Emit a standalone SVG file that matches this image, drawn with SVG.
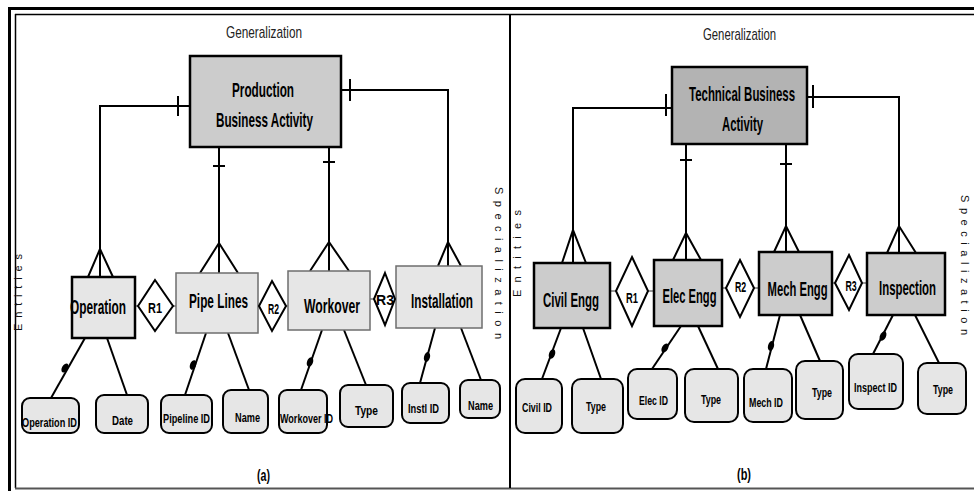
<svg xmlns="http://www.w3.org/2000/svg" width="974" height="491" viewBox="0 0 974 491">
  <style>
    .frame { fill: none; stroke: #000; }
    .con { fill: none; stroke: #000; stroke-width: 2; }
    .thin { fill: none; stroke: #555; stroke-width: 1.2; }
    .entA { fill: #e6e6e6; stroke: #6e6e6e; stroke-width: 1.5; }
    .entB { fill: #cccccc; stroke: #000; stroke-width: 2.5; }
    .entOp { fill: #e6e6e6; stroke: #000; stroke-width: 2.5; }
    .super1 { fill: #cccccc; stroke: #000; stroke-width: 2.5; }
    .super2 { fill: #b3b3b3; stroke: #000; stroke-width: 2.5; }
    .attr { fill: #e6e6e6; stroke: #000; stroke-width: 2; }
    .rel { fill: #fff; stroke: #000; stroke-width: 2; }
    .dot { fill: #000; }
    text { font-family: "Liberation Sans Narrow", "Liberation Sans", Arial, sans-serif; fill: #000; text-anchor: middle; }
    .title { font-size: 16px; fill: #222; }
    .big { font-size: 20px; font-weight: bold; }
    .rl { font-size: 15px; font-weight: bold; }
    .at { font-size: 13.5px; font-weight: bold; }
    .cap { font-size: 17px; font-weight: bold; }
    .side { font-size: 11px; fill: #111; text-anchor: start; }
  </style>

  <!-- outer double frame -->
  <g id="frame">
    <line class="frame" x1="9.5" y1="8" x2="9.5" y2="491" stroke-width="3"/>
    <line class="frame" x1="8" y1="8.5" x2="974" y2="8.5" stroke-width="3"/>
    <line class="frame" x1="15.5" y1="14" x2="15.5" y2="488" stroke-width="1.5"/>
    <line class="frame" x1="15" y1="14.5" x2="974" y2="14.5" stroke-width="1.5"/>
    <line x1="15" y1="488.5" x2="974" y2="488.5" stroke="#555" stroke-width="2"/>
    <line class="frame" x1="510" y1="14" x2="510" y2="488" stroke-width="2"/>
  </g>

  <!-- sideways captions -->
  <g id="side-captions">
    <text class="side" transform="translate(22,331) rotate(-90)" textLength="77" lengthAdjust="spacing">Entities</text>
    <text class="side" transform="translate(495,187) rotate(90)" textLength="152" lengthAdjust="spacing">Specialization</text>
    <text class="side" transform="translate(521,297) rotate(-90)" textLength="87" lengthAdjust="spacing">Entities</text>
    <text class="side" transform="translate(961,195) rotate(90)" textLength="140" lengthAdjust="spacing">Specialization</text>
  </g>

  <!-- connectors -->
  <g id="connectors">
    <!-- panel (a): supertype links -->
    <polyline class="con" points="190,106 100,106 100,277"/>
    <line class="con" x1="178" y1="96" x2="178" y2="116"/>
    <polyline class="con" points="88,277 100,249 113,277"/>
    <line class="con" x1="219" y1="147" x2="219" y2="273"/>
    <line class="con" x1="213" y1="166" x2="225" y2="166"/>
    <polyline class="con" points="200,273 219,243 238,273"/>
    <line class="con" x1="329" y1="147" x2="329" y2="271"/>
    <line class="con" x1="323" y1="162" x2="335" y2="162"/>
    <polyline class="con" points="310,271 329,242 349,271"/>
    <polyline class="con" points="341,90 448,90 448,266"/>
    <line class="con" x1="350" y1="79" x2="350" y2="101"/>
    <polyline class="con" points="438,266 448,242 461,266"/>

    <!-- panel (a): relationship links -->
    <line class="thin" x1="135" y1="306" x2="138" y2="306"/>
    <line class="thin" x1="173" y1="306" x2="176" y2="306"/>
    <line class="thin" x1="258" y1="306" x2="259" y2="306"/>
    <line class="thin" x1="286" y1="306" x2="288" y2="306"/>
    <line class="thin" x1="370" y1="299" x2="374" y2="299"/>
    <line class="thin" x1="395" y1="299" x2="396" y2="299"/>

    <!-- panel (a): attribute links -->
    <line class="con" x1="85" y1="338" x2="51" y2="398"/>
    <ellipse class="dot" cx="65" cy="368" rx="3" ry="5" transform="rotate(30 65 368)"/>
    <line class="con" x1="107" y1="338" x2="127" y2="395"/>
    <line class="con" x1="206" y1="333" x2="185" y2="395"/>
    <ellipse class="dot" cx="193" cy="365" rx="3" ry="5" transform="rotate(20 193 365)"/>
    <line class="con" x1="228" y1="333" x2="249" y2="390"/>
    <line class="con" x1="322" y1="330" x2="301" y2="390"/>
    <ellipse class="dot" cx="310" cy="362" rx="3" ry="5" transform="rotate(20 310 362)"/>
    <line class="con" x1="344" y1="330" x2="366" y2="385"/>
    <line class="con" x1="435" y1="328" x2="420" y2="383"/>
    <ellipse class="dot" cx="427" cy="357" rx="3" ry="5" transform="rotate(15 427 357)"/>
    <line class="con" x1="461" y1="328" x2="481" y2="380"/>

    <!-- panel (b): supertype links -->
    <polyline class="con" points="672,108 573,108 573,263"/>
    <line class="con" x1="666" y1="94" x2="666" y2="116"/>
    <polyline class="con" points="562,263 573,230 586,263"/>
    <line class="con" x1="686" y1="144" x2="686" y2="260"/>
    <line class="con" x1="680" y1="160" x2="692" y2="160"/>
    <polyline class="con" points="673,260 686,233 701,260"/>
    <line class="con" x1="786" y1="144" x2="786" y2="252"/>
    <line class="con" x1="780" y1="164" x2="792" y2="164"/>
    <polyline class="con" points="774,252 786,226 799,252"/>
    <polyline class="con" points="807,97 899,97 899,253"/>
    <line class="con" x1="813" y1="85" x2="813" y2="108"/>
    <polyline class="con" points="887,253 899,226 916,253"/>

    <!-- panel (b): relationship links -->
    <line class="thin" x1="610" y1="291" x2="616" y2="291"/>
    <line class="thin" x1="648" y1="291" x2="654" y2="291"/>
    <line class="thin" x1="722" y1="288" x2="726" y2="288"/>
    <line class="thin" x1="754" y1="288" x2="759" y2="288"/>
    <line class="thin" x1="832" y1="283" x2="835" y2="283"/>
    <line class="thin" x1="862" y1="283" x2="867" y2="283"/>

    <!-- panel (b): attribute links -->
    <line class="con" x1="561" y1="328" x2="542" y2="379"/>
    <ellipse class="dot" cx="552" cy="354" rx="3" ry="5" transform="rotate(20 552 354)"/>
    <line class="con" x1="583" y1="328" x2="601" y2="379"/>
    <line class="con" x1="681" y1="326" x2="652" y2="369"/>
    <ellipse class="dot" cx="665" cy="348" rx="3" ry="5" transform="rotate(30 665 348)"/>
    <line class="con" x1="698" y1="326" x2="718" y2="369"/>
    <line class="con" x1="780" y1="315" x2="766" y2="369"/>
    <ellipse class="dot" cx="771" cy="346" rx="3" ry="5" transform="rotate(15 771 346)"/>
    <line class="con" x1="800" y1="315" x2="820" y2="361"/>
    <line class="con" x1="893" y1="315" x2="873" y2="354"/>
    <ellipse class="dot" cx="883" cy="336" rx="3" ry="5" transform="rotate(25 883 336)"/>
    <line class="con" x1="915" y1="315" x2="939" y2="363"/>
  </g>

  <!-- panel (a); labels use a condensed horizontal scale -->
  <text class="title" transform="translate(264,38) scale(0.8,1)" textLength="95" lengthAdjust="spacingAndGlyphs">Generalization</text>

  <g id="production-business-activity">
    <rect class="super1" x="190" y="56" width="151" height="91"/>
    <text class="big" transform="translate(263,97) scale(0.75,1)" textLength="82.7" lengthAdjust="spacingAndGlyphs">Production</text>
    <text class="big" transform="translate(264.5,127) scale(0.75,1)" textLength="129.3" lengthAdjust="spacingAndGlyphs">Business Activity</text>
  </g>

  <g id="operation">
    <rect class="entOp" x="72" y="277" width="63" height="61"/>
    <text class="big" transform="translate(98,314) scale(0.75,1)" textLength="74.7" lengthAdjust="spacingAndGlyphs">Operation</text>
  </g>
  <g id="pipe-lines">
    <rect class="entA" x="176" y="273" width="82" height="60"/>
    <text class="big" transform="translate(218.5,308) scale(0.75,1)" textLength="78.7" lengthAdjust="spacingAndGlyphs">Pipe Lines</text>
  </g>
  <g id="workover">
    <rect class="entA" x="288" y="271" width="82" height="59"/>
    <text class="big" transform="translate(332,313) scale(0.75,1)" textLength="74.7" lengthAdjust="spacingAndGlyphs">Workover</text>
  </g>
  <g id="installation">
    <rect class="entA" x="396" y="266" width="86" height="62"/>
    <text class="big" transform="translate(442,308) scale(0.75,1)" textLength="82.7" lengthAdjust="spacingAndGlyphs">Installation</text>
  </g>

  <g id="a-r1">
    <polygon class="rel" points="155,280 173,306 155,331 138,306"/>
    <text class="rl" transform="translate(155,313) scale(0.75,1)" textLength="18.7" lengthAdjust="spacingAndGlyphs">R1</text>
  </g>
  <g id="a-r2">
    <polygon class="rel" points="272,281 286,306 272,331 259,306"/>
    <text class="rl" transform="translate(273.5,314) scale(0.75,1)" textLength="14.7" lengthAdjust="spacingAndGlyphs">R2</text>
  </g>
  <g id="a-r3">
    <polygon class="rel" points="385,273 395,299 385,325 374,299"/>
    <text class="rl" transform="translate(385,305) scale(0.75,1)" textLength="24" lengthAdjust="spacingAndGlyphs">R3</text>
  </g>

  <g id="operation-id">
    <rect class="attr" x="22" y="398" width="57" height="35" rx="8"/>
    <text class="at" transform="translate(49.5,427) scale(0.75,1)" textLength="73.3" lengthAdjust="spacingAndGlyphs">Operation ID</text>
  </g>
  <g id="date">
    <rect class="attr" x="96" y="395" width="52" height="38" rx="8"/>
    <text class="at" transform="translate(122.5,425) scale(0.75,1)" textLength="28" lengthAdjust="spacingAndGlyphs">Date</text>
  </g>
  <g id="pipeline-id">
    <rect class="attr" x="161" y="395" width="51" height="38" rx="8"/>
    <text class="at" transform="translate(186.5,423) scale(0.75,1)" textLength="62.7" lengthAdjust="spacingAndGlyphs">Pipeline ID</text>
  </g>
  <g id="pipeline-name">
    <rect class="attr" x="223" y="390" width="45" height="43" rx="8"/>
    <text class="at" transform="translate(247.5,422) scale(0.75,1)" textLength="33.3" lengthAdjust="spacingAndGlyphs">Name</text>
  </g>
  <g id="workover-id">
    <rect class="attr" x="279" y="390" width="48" height="43" rx="8"/>
    <text class="at" transform="translate(306.5,423) scale(0.75,1)" textLength="70.7" lengthAdjust="spacingAndGlyphs">Workover ID</text>
  </g>
  <g id="workover-type">
    <rect class="attr" x="340" y="385" width="53" height="42" rx="8"/>
    <text class="at" transform="translate(366.5,415) scale(0.75,1)" textLength="30.7" lengthAdjust="spacingAndGlyphs">Type</text>
  </g>
  <g id="instl-id">
    <rect class="attr" x="402" y="383" width="47" height="40" rx="8"/>
    <text class="at" transform="translate(423.5,413) scale(0.75,1)" textLength="41.3" lengthAdjust="spacingAndGlyphs">Instl ID</text>
  </g>
  <g id="installation-name">
    <rect class="attr" x="460" y="380" width="40" height="38" rx="8"/>
    <text class="at" transform="translate(480.5,410) scale(0.75,1)" textLength="33.3" lengthAdjust="spacingAndGlyphs">Name</text>
  </g>

  <text class="cap" transform="translate(263.5,481) scale(0.75,1)" textLength="17.3" lengthAdjust="spacingAndGlyphs">(a)</text>

  <!-- panel (b) -->
  <text class="title" transform="translate(739.5,40) scale(0.8,1)" textLength="91.3" lengthAdjust="spacingAndGlyphs">Generalization</text>

  <g id="technical-business-activity">
    <rect class="super2" x="672" y="67" width="135" height="77"/>
    <text class="big" transform="translate(742,101) scale(0.75,1)" textLength="141.3" lengthAdjust="spacingAndGlyphs">Technical Business</text>
    <text class="big" transform="translate(742.5,131) scale(0.75,1)" textLength="54.7" lengthAdjust="spacingAndGlyphs">Activity</text>
  </g>

  <g id="civil-engg">
    <rect class="entB" x="534" y="263" width="76" height="65"/>
    <text class="big" transform="translate(571,307) scale(0.75,1)" textLength="74.7" lengthAdjust="spacingAndGlyphs">Civil Engg</text>
  </g>
  <g id="elec-engg">
    <rect class="entB" x="654" y="260" width="68" height="66"/>
    <text class="big" transform="translate(689.5,303) scale(0.75,1)" textLength="72" lengthAdjust="spacingAndGlyphs">Elec Engg</text>
  </g>
  <g id="mech-engg">
    <rect class="entB" x="759" y="252" width="73" height="63"/>
    <text class="big" transform="translate(797.5,296) scale(0.75,1)" textLength="80" lengthAdjust="spacingAndGlyphs">Mech Engg</text>
  </g>
  <g id="inspection">
    <rect class="entB" x="867" y="253" width="78" height="62"/>
    <text class="big" transform="translate(907.5,295) scale(0.75,1)" textLength="76" lengthAdjust="spacingAndGlyphs">Inspection</text>
  </g>

  <g id="b-r1">
    <polygon class="rel" points="632,257 648,291 632,326 616,291"/>
    <text class="rl" transform="translate(632,303) scale(0.75,1)" textLength="16" lengthAdjust="spacingAndGlyphs">R1</text>
  </g>
  <g id="b-r2">
    <polygon class="rel" points="740,260 754,288 740,317 726,288"/>
    <text class="rl" transform="translate(740.5,292) scale(0.75,1)" textLength="15" lengthAdjust="spacingAndGlyphs">R2</text>
  </g>
  <g id="b-r3">
    <polygon class="rel" points="849,255 862,283 849,310 835,283"/>
    <text class="rl" transform="translate(851,291) scale(0.75,1)" textLength="15" lengthAdjust="spacingAndGlyphs">R3</text>
  </g>

  <g id="civil-id">
    <rect class="attr" x="516" y="379" width="46" height="54" rx="9"/>
    <text class="at" transform="translate(537,412) scale(0.75,1)" textLength="40" lengthAdjust="spacingAndGlyphs">Civil ID</text>
  </g>
  <g id="civil-type">
    <rect class="attr" x="572" y="379" width="51" height="54" rx="9"/>
    <text class="at" transform="translate(596,411) scale(0.75,1)" textLength="26.7" lengthAdjust="spacingAndGlyphs">Type</text>
  </g>
  <g id="elec-id">
    <rect class="attr" x="628" y="369" width="49" height="50" rx="9"/>
    <text class="at" transform="translate(653.5,405) scale(0.75,1)" textLength="38.7" lengthAdjust="spacingAndGlyphs">Elec ID</text>
  </g>
  <g id="elec-type">
    <rect class="attr" x="685" y="369" width="53" height="53" rx="9"/>
    <text class="at" transform="translate(711,404) scale(0.75,1)" textLength="26.7" lengthAdjust="spacingAndGlyphs">Type</text>
  </g>
  <g id="mech-id">
    <rect class="attr" x="744" y="369" width="48" height="53" rx="9"/>
    <text class="at" transform="translate(766,407) scale(0.75,1)" textLength="45.3" lengthAdjust="spacingAndGlyphs">Mech ID</text>
  </g>
  <g id="mech-type">
    <rect class="attr" x="796" y="361" width="47" height="58" rx="9"/>
    <text class="at" transform="translate(822,397) scale(0.75,1)" textLength="26.7" lengthAdjust="spacingAndGlyphs">Type</text>
  </g>
  <g id="inspect-id">
    <rect class="attr" x="849" y="354" width="54" height="55" rx="9"/>
    <text class="at" transform="translate(875.5,392) scale(0.75,1)" textLength="57.3" lengthAdjust="spacingAndGlyphs">Inspect ID</text>
  </g>
  <g id="inspect-type">
    <rect class="attr" x="918" y="363" width="48" height="51" rx="9"/>
    <text class="at" transform="translate(943,394) scale(0.75,1)" textLength="26.7" lengthAdjust="spacingAndGlyphs">Type</text>
  </g>

  <text class="cap" transform="translate(744,480) scale(0.75,1)" textLength="18.7" lengthAdjust="spacingAndGlyphs">(b)</text>
</svg>
